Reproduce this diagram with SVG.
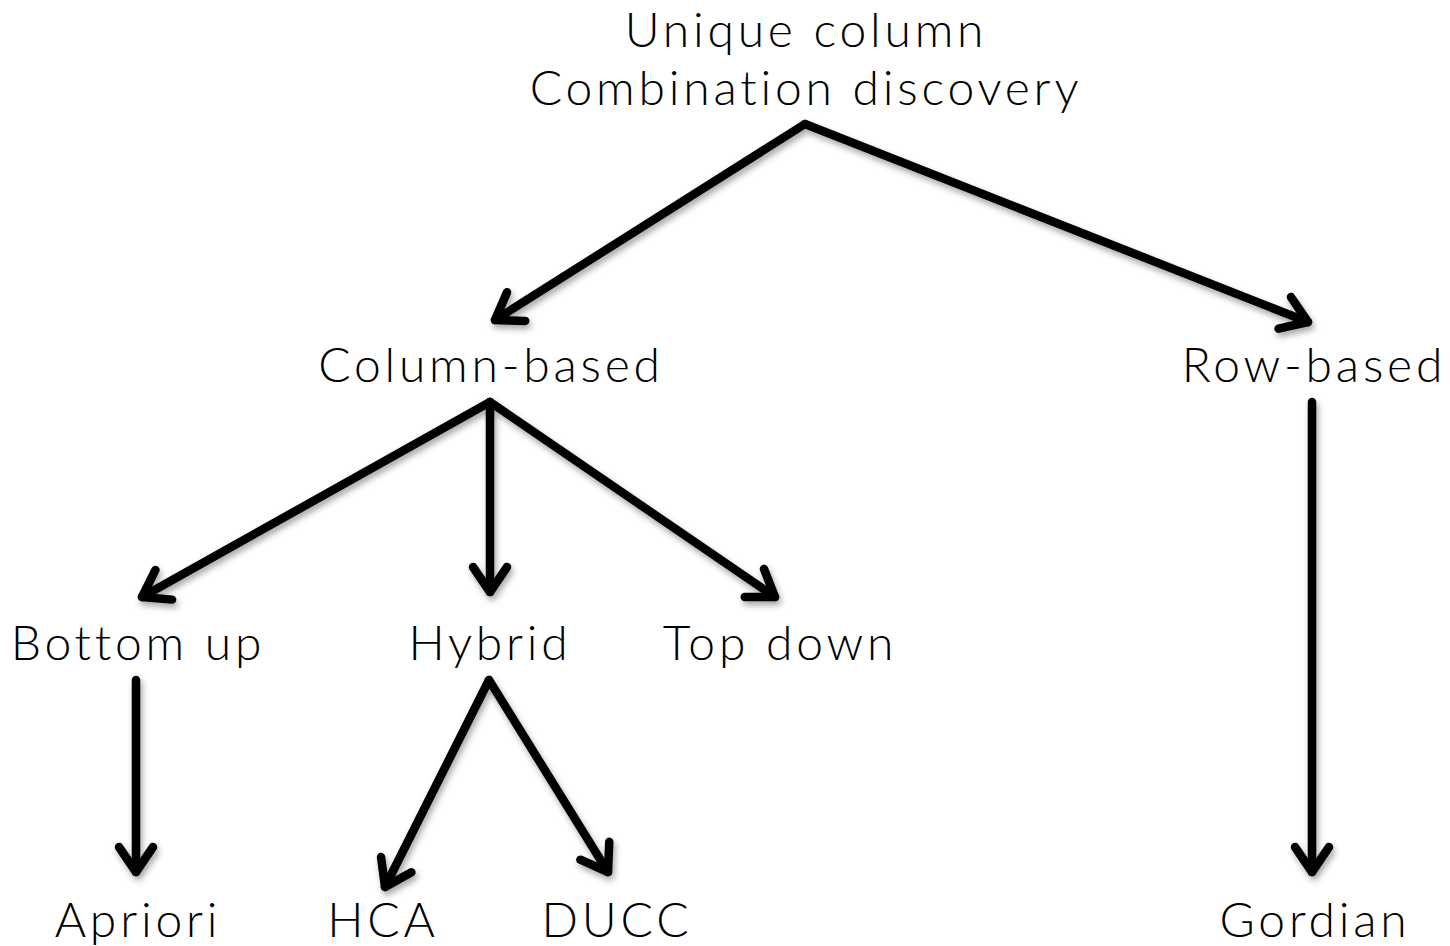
<svg xmlns="http://www.w3.org/2000/svg" width="1450" height="946" viewBox="0 0 1450 946">
  <style>
    .label { font-family: "Lato", "Open Sans", "Liberation Sans", sans-serif; font-weight: 300; font-size: 48px; fill: #000; text-anchor: middle; letter-spacing: 3.8px; }
    .edge { fill: none; stroke: #000; stroke-width: 8.5; stroke-linecap: round; stroke-linejoin: round; marker-end: url(#head); }
  </style>
  <defs>
    <marker id="head" markerUnits="userSpaceOnUse" viewBox="-40 -30 50 60" markerWidth="50" markerHeight="60" refX="0" refY="0" orient="auto">
      <path d="M -25 -17 L 0 0 L -25 17" fill="none" stroke="#000" stroke-width="8.5" stroke-linecap="round" stroke-linejoin="round"/>
    </marker>
    <filter id="shadow" x="-10%" y="-10%" width="120%" height="130%">
      <feDropShadow dx="2" dy="4" stdDeviation="3" flood-color="#000" flood-opacity="0.35"/>
    </filter>
  </defs>
  <rect width="1450" height="946" fill="#fff"/>

  <g id="connectors" filter="url(#shadow)">
    <path class="edge" d="M 805 124 L 495 320"/>
    <path class="edge" d="M 805 124 L 1308 322"/>
    <path class="edge" d="M 490 402 L 142 597"/>
    <path class="edge" d="M 490 402 L 490 592"/>
    <path class="edge" d="M 490 402 L 775 597"/>
    <path class="edge" d="M 136 680 L 136 872"/>
    <path class="edge" d="M 489 680 L 385 887"/>
    <path class="edge" d="M 489 680 L 608 872"/>
    <path class="edge" d="M 1312 402 L 1312 872"/>
  </g>

  <g id="root">
    <text class="label" x="806" y="47">Unique column</text>
    <text class="label" x="806" y="105">Combination discovery</text>
  </g>
  <g id="column-based"><text class="label" x="491" y="382">Column-based</text></g>
  <g id="row-based"><text class="label" x="1314" y="382">Row-based</text></g>
  <g id="bottom-up"><text class="label" x="138" y="660">Bottom up</text></g>
  <g id="hybrid"><text class="label" x="490" y="660">Hybrid</text></g>
  <g id="top-down"><text class="label" x="780" y="660">Top down</text></g>
  <g id="apriori"><text class="label" x="138" y="937">Apriori</text></g>
  <g id="hca"><text class="label" x="383" y="937">HCA</text></g>
  <g id="ducc"><text class="label" x="617" y="937">DUCC</text></g>
  <g id="gordian"><text class="label" x="1315" y="937">Gordian</text></g>
</svg>
